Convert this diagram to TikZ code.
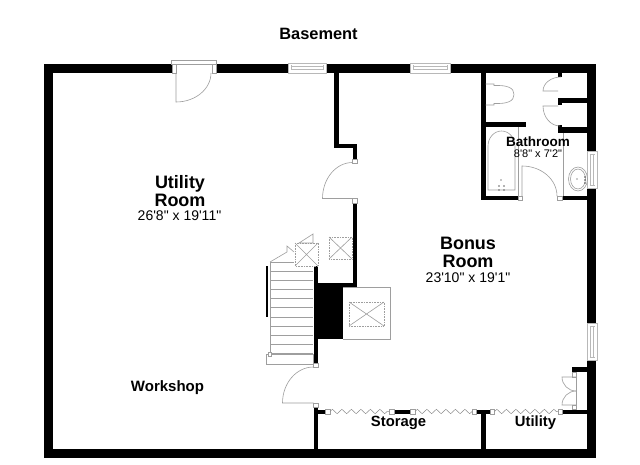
\documentclass[tikz,border=0pt]{standalone}
\usepackage{fontspec}
\newfontfamily\lsans{Liberation Sans}
\usetikzlibrary{decorations.pathmorphing}
\tikzset{
  fix/.style={draw=black!38,line width=0.6pt},
  pane/.style={draw=black!28,line width=0.5pt},
  jamb/.style={draw=black!38,line width=0.6pt,fill=white},
  wallfill/.style={fill=black},
  zig/.style={draw=black!45,line width=0.5pt,decorate,decoration={zigzag,segment length=9.5pt,amplitude=2.2pt}},
  lab/.style={font=\lsans\bfseries,inner sep=0pt,align=center},
  dim/.style={font=\lsans,inner sep=0pt,align=center}
}
\begin{document}
\begin{tikzpicture}[x=1pt,y=-1pt]
\useasboundingbox (0,0) rectangle (640,465);
\fill[white] (0,0) rectangle (640,465);
% walls
\foreach \a/\b/\c/\d in {
 44/64/172/73, 216/64/288/73, 326/64/410/73, 450/64/596/73,
 44/64/53/458, 44/449/596/458,
 587/64/596/151, 587/188/596/323, 587/360/596/458,
 334/73/338.5/148.5, 334/144/357/148.5, 353/144/357/159,
 352.5/203/357/287, 313.5/266/318/363, 318/283/343/339, 343/283/357/287,
 313.5/407/318/449, 313.5/409.5/325/414, 394/409.5/410/414, 476/409.5/490/414, 562/409.5/587/414,
 481/414/485.5/449, 572/367/587/372,
 481/73/485.5/200, 481/122/526/127, 481/196/518/200.5, 562/196/587/200.5,
 558/73/562/77, 558/98/587/103, 558/98/562/105, 558/127/587/133, 558/125/562/133}
 {\fill[wallfill] (\a,\b) rectangle (\c,\d);}
\fill[wallfill] (266,266) rectangle (268,317);
% windows
\foreach \a/\b in {288/326,410/450}{
 \draw[pane] (\a,63) rectangle (\b,73.5);
 \draw[pane] (\a+3,65.5) -- (\a+3,70.5) (\b-3,65.5) -- (\b-3,70.5) (\a+3,66.5) -- (\b-3,66.5) (\a+3,69.5) -- (\b-3,69.5);
}
\foreach \a/\b in {151/188,323/360}{
 \draw[pane] (587,\a) rectangle (597,\b);
 \draw[pane] (589.5,\a+3) -- (594.5,\a+3) (589.5,\b-3) -- (594.5,\b-3) (590.5,\a+3) -- (590.5,\b-3) (593.5,\a+3) -- (593.5,\b-3);
}
% entry door, top wall
\draw[fix] (171.5,60.5) rectangle (216,64);
\draw[jamb] (172,64) rectangle (176,73);
\draw[jamb] (212,64) rectangle (216,73);
\draw[fix] (176,73) -- (176,102) arc[start angle=90,end angle=0,x radius=35,y radius=29] -- (211,73);
% doors with jambs
\draw[jamb] (352.5,159) rectangle (357,163);
\draw[jamb] (352.5,198.5) rectangle (357,203);
\draw[fix] (352.5,198.5) -- (322.5,198.5) arc[start angle=180,end angle=270,x radius=30,y radius=36];
\draw[jamb] (313.5,363) rectangle (318,367);
\draw[jamb] (313.5,403) rectangle (318,407);
\draw[fix] (313.5,403) -- (282.5,403) arc[start angle=180,end angle=270,x radius=31,y radius=36];
% folding doors
\foreach \a/\b in {325/330,389/394,410/415,472/476.5,490/494.5,558/562}
 {\draw[jamb] (\a,409.5) rectangle (\b,414);}
\coordinate (z1a) at (330,411.5); \coordinate (z1b) at (389,411.5);
\coordinate (z2a) at (415,411.5); \coordinate (z2b) at (472,411.5);
\coordinate (z3a) at (494.5,411.5); \coordinate (z3b) at (558,411.5);
\draw[zig] (z1a) -- (z1b);
\draw[zig] (z2a) -- (z2b);
\draw[zig] (z3a) -- (z3b);
% double closet door, lower right
\draw[jamb] (572,372) rectangle (576,377);
\draw[jamb] (572,405) rectangle (576,409.5);
\draw[fix] (576,377) -- (562,377) arc[start angle=180,end angle=90,x radius=14,y radius=14];
\draw[fix] (576,405) -- (562,405) arc[start angle=180,end angle=270,x radius=14,y radius=14];
\draw[fix] (576,377) -- (576,405);
% stairs
\draw[fix] (270,262) -- (270,354);
\draw[fix] (270,262) -- (287,252) -- (287,246) -- (294,252);
\draw[fix] (270,262) -- (294,262);
\draw[fix] (299,243) -- (313,234) -- (313,243) -- cycle;
\foreach \y in {271,280,289,298,307,317,326,335,344,353}{\draw[fix] (270,\y) -- (313,\y);}
\draw[fix] (266,354) rectangle (313.5,364);
\draw[jamb] (268,352) rectangle (271,356);
% X boxes
\foreach \a/\b/\c/\d in {295/243/318/266, 329/237/352/259, 349/302/384/326}{
 \draw[fix,densely dotted] (\a,\b) rectangle (\c,\d);
 \draw[fix] (\a,\b) -- (\c,\d) (\a,\d) -- (\c,\b);
}
\draw[fix] (343,287) -- (390,287) -- (390,339) -- (343,339);
% bathroom doors
\draw[fix] (561,77) arc[start angle=270,end angle=180,x radius=18,y radius=14] -- (558,91);
\draw[fix] (558,106) -- (543,106) arc[start angle=180,end angle=90,x radius=17,y radius=20];
\draw[jamb] (518,196) rectangle (522,200.5);
\draw[jamb] (557,196) rectangle (562,200.5);
\draw[fix] (522,196) -- (522,166) arc[start angle=270,end angle=360,x radius=35,y radius=30];
% toilet
\draw[fix] (485.5,84) -- (494,84) -- (494,85.5) .. controls (508,85) and (514,88) .. (514,94.5) .. controls (514,101) and (508,104) .. (494,103.5) -- (494,105) -- (485.5,105);
% tub
\draw[fix] (518,127) -- (518,196);
\draw[fix] (488,190) -- (488,146) arc[start angle=180,end angle=360,x radius=13.5,y radius=15] -- (515,190) -- cycle;
\fill[black!45] (501,180) circle[radius=0.9];
\fill[black!60] (499,186) circle[radius=0.9] (504,186) circle[radius=0.9] (499,190) circle[radius=0.9] (504,190) circle[radius=0.9];
% vanity and sink
\draw[fix] (563,133) -- (563,196);
\draw[fix] (578,179) ellipse[x radius=9.5,y radius=12];
\draw[fix] (578,179) ellipse[x radius=7.5,y radius=10];
\fill[black!70] (585,177) circle[radius=0.8] (585,180) circle[radius=0.8] (585,183) circle[radius=0.8];
\fill[black!40] (577,179) circle[radius=0.8];
% labels
\node[lab,font=\lsans\bfseries\fontsize{16.4}{18}\selectfont] (basement) at (318.5,33.5) {Basement};
\node[lab,font=\lsans\bfseries\fontsize{18}{18}\selectfont] (utilroom) at (180,191.5) {Utility\\Room};
\node[dim,font=\lsans\fontsize{14}{14}\selectfont] (utildim) at (179.5,215.5) {26'8" x 19'11"};
\node[lab,font=\lsans\bfseries\fontsize{18}{18}\selectfont] (bonus) at (468,252) {Bonus\\Room};
\node[dim,font=\lsans\fontsize{14}{14}\selectfont] (bonusdim) at (468,277.5) {23'10" x 19'1"};
\node[lab,font=\lsans\bfseries\fontsize{13.5}{14}\selectfont] (bath) at (538,142) {Bathroom};
\node[dim,font=\lsans\fontsize{11}{12}\selectfont] (bathdim) at (538,153.5) {8'8" x 7'2"};
\node[lab,font=\lsans\bfseries\fontsize{15}{16}\selectfont] (workshop) at (167.5,388) {Workshop};
\node[lab,font=\lsans\bfseries\fontsize{14.8}{16}\selectfont] (storage) at (398.5,422.5) {Storage};
\node[lab,font=\lsans\bfseries\fontsize{14.8}{16}\selectfont] (utility) at (535.5,422.5) {Utility};
\end{tikzpicture}
\end{document}
